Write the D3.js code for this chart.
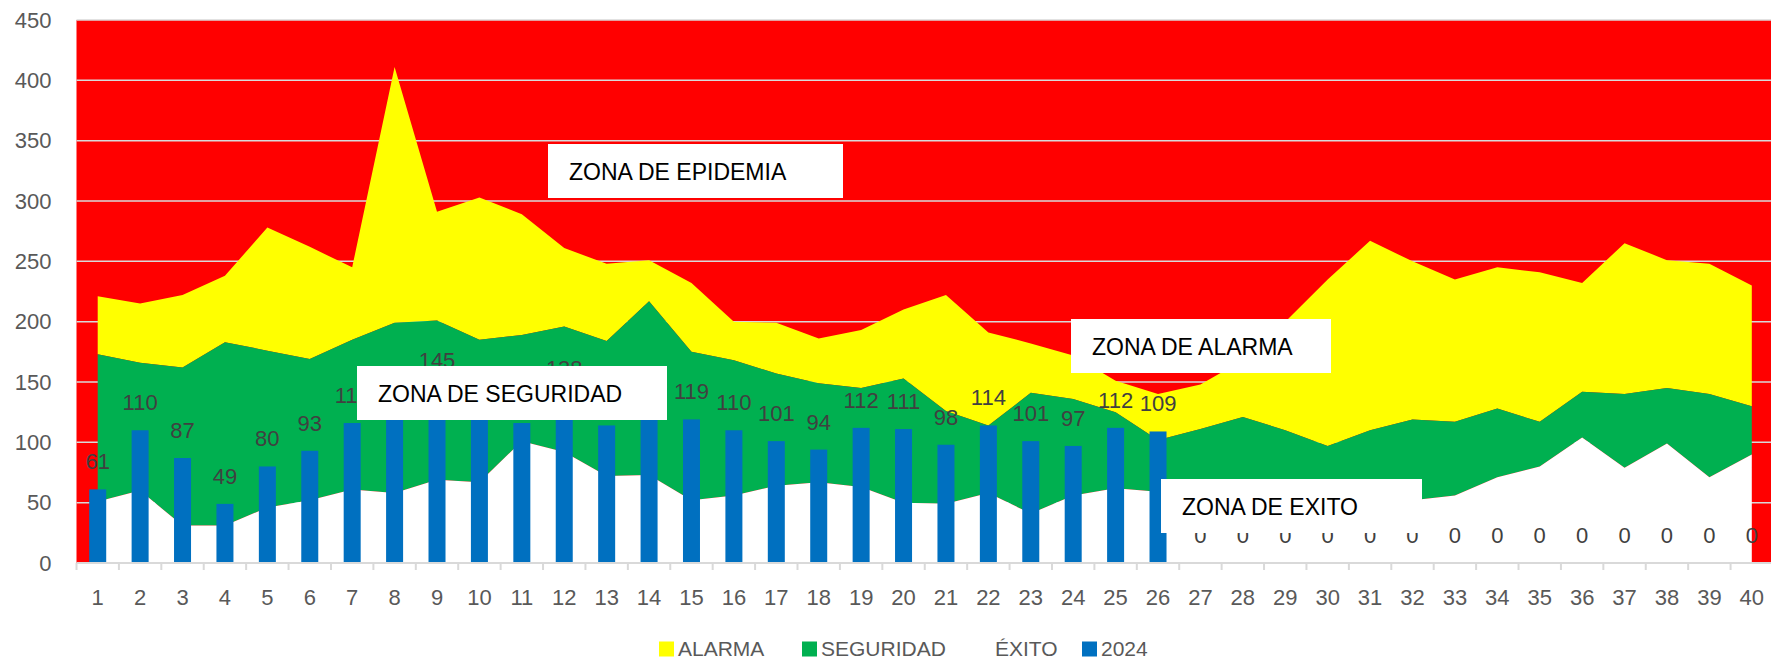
<!DOCTYPE html>
<html>
<head>
<meta charset="utf-8">
<script src="https://cdn.jsdelivr.net/npm/d3@7"></script>
<style>
  body { margin: 0; background: #fff; }
  svg { display: block; font-family: "Liberation Sans", Arial, sans-serif; }
</style>
</head>
<body>
<svg width="1771" height="663"></svg>
<script>
var weeks = [1, 2, 3, 4, 5, 6, 7, 8, 9, 10, 11, 12, 13, 14, 15, 16, 17, 18, 19, 20,
  21, 22, 23, 24, 25, 26, 27, 28, 29, 30, 31, 32, 33, 34, 35, 36, 37, 38, 39, 40]

// upper limit of each zone (cases per week)
var alarma = [221, 215, 222, 238, 278, 262, 245, 411, 291, 303, 289, 261, 248, 251, 232, 200, 199, 186, 193, 210,
  222, 191, 182, 172, 151, 140, 148, 168, 200, 235, 267, 250, 235, 245, 241, 232, 265, 251, 248, 230]
var seguridad = [173, 166, 162, 183, 176, 169, 185, 199, 201, 185, 189, 196, 184, 217, 175, 168, 157, 149, 145, 153,
  126, 114, 141, 136, 125, 102, 111, 121, 110, 97, 110, 119, 117, 128, 117, 142, 140, 145, 140, 130]
var exito = [51, 60, 31, 31, 46, 52, 61, 58, 69, 67, 101, 92, 72, 73, 52, 56, 64, 67, 63, 50,
  49, 58, 41, 56, 62, 59, 57, 54, 52, 50, 51, 52, 56, 71, 80, 104, 79, 99, 71, 90]
var casos2024 = [61, 110, 87, 49, 80, 93, 116, 128, 145, 122, 116, 138, 114, 125, 119, 110, 101, 94, 112, 111,
  98, 114, 101, 97, 112, 109, 0, 0, 0, 0, 0, 0, 0, 0, 0, 0, 0, 0, 0, 0]

var yTicks = [0, 50, 100, 150, 200, 250, 300, 350, 400, 450]
var legendNames = ['ALARMA', 'SEGURIDAD', 'ÉXITO', '2024']
var zoneNames = ['ZONA DE EPIDEMIA', 'ZONA DE SEGURIDAD', 'ZONA DE ALARMA', 'ZONA DE EXITO']

;(function (d3) {
  var svg = d3.select('svg')

  var left = 76.5
  var right = 1773
  var top = 20
  var bottom = 563

  var x = d3.scaleBand()
    .domain(weeks)
    .range([left, right])

  var y = d3.scaleLinear()
    .domain([0, 450])
    .range([bottom, top])

  var cx = function (d, i) { return x(weeks[i]) + x.bandwidth() / 2 }

  // epidemic zone = plot background
  svg.append('rect')
    .attr('x', left)
    .attr('y', top)
    .attr('width', right - left)
    .attr('height', bottom - top)
    .style('fill', '#ff0000')

  svg.selectAll('line.grid')
    .data(yTicks.filter(function (v) { return v > 0 }))
    .enter()
    .append('line')
    .attr('class', 'grid')
    .attr('x1', left)
    .attr('x2', right)
    .attr('y1', function (v) { return y(v) })
    .attr('y2', function (v) { return y(v) })
    .style('stroke', '#d9d9d9')
    .style('stroke-width', 1.5)

  // alarm, security and success channels, top to bottom
  var bands = [
    {lo: seguridad, hi: alarma, color: '#ffff00'},
    {lo: exito, hi: seguridad, color: '#00b050'},
    {lo: null, hi: exito, color: '#ffffff'}
  ]

  bands.forEach(function (b) {
    var area = d3.area()
      .x(cx)
      .y0(function (d, i) { return b.lo ? y(b.lo[i]) : y(0) })
      .y1(function (d, i) { return y(b.hi[i]) })
    svg.append('path')
      .datum(weeks)
      .attr('d', area)
      .style('fill', b.color)
  })

  var barW = 17
  svg.selectAll('rect.bar')
    .data(casos2024)
    .enter()
    .append('rect')
    .attr('class', 'bar')
    .attr('x', function (d, i) { return cx(d, i) - barW / 2 })
    .attr('y', function (d) { return y(d) })
    .attr('width', barW)
    .attr('height', function (d) { return bottom - y(d) })
    .style('fill', '#0070c0')

  svg.selectAll('text.val')
    .data(casos2024)
    .enter()
    .append('text')
    .attr('class', 'val')
    .attr('x', cx)
    .attr('y', function (d) { return y(d) - 20 })
    .attr('text-anchor', 'middle')
    .style('font-size', '22px')
    .style('fill', '#404040')
    .text(function (d) { return d })

  // x axis
  var xAxis = svg.append('g')
    .attr('transform', 'translate(0,' + bottom + ')')
    .call(d3.axisBottom(x).tickSize(0).tickPadding(26))
  xAxis.select('.domain').remove()
  xAxis.selectAll('text')
    .style('font-size', '22px')
    .style('font-family', '"Liberation Sans", Arial, sans-serif')
    .style('fill', '#595959')

  svg.append('line')
    .attr('x1', left)
    .attr('x2', right)
    .attr('y1', bottom)
    .attr('y2', bottom)
    .style('stroke', '#d9d9d9')
    .style('stroke-width', 2)

  svg.selectAll('line.xtick')
    .data(weeks)
    .enter()
    .append('line')
    .attr('class', 'xtick')
    .attr('x1', function (d) { return x(d) })
    .attr('x2', function (d) { return x(d) })
    .attr('y1', bottom)
    .attr('y2', bottom + 7)
    .style('stroke', '#d9d9d9')
    .style('stroke-width', 2)

  // y axis
  var yAxis = svg.append('g')
    .attr('transform', 'translate(' + left + ',0)')
    .call(d3.axisLeft(y).tickValues(yTicks).tickSize(0).tickPadding(25))
  yAxis.select('.domain').remove()
  yAxis.selectAll('text')
    .style('font-size', '22px')
    .style('font-family', '"Liberation Sans", Arial, sans-serif')
    .style('fill', '#595959')

  // zone text boxes
  var boxes = [
    {x: 548, y: 144, w: 295, h: 54},
    {x: 357, y: 366, w: 310, h: 54},
    {x: 1071, y: 319, w: 260, h: 54},
    {x: 1161, y: 479, w: 261, h: 54}
  ]
  boxes.forEach(function (b, i) {
    svg.append('rect')
      .attr('x', b.x)
      .attr('y', b.y)
      .attr('width', b.w)
      .attr('height', b.h)
      .style('fill', '#ffffff')
    svg.append('text')
      .attr('x', b.x + 21)
      .attr('y', b.y + b.h / 2 + 1)
      .attr('dy', '0.35em')
      .style('font-size', '23px')
      .style('fill', '#000000')
      .text(zoneNames[i])
  })

  // legend
  var legendColors = ['#ffff00', '#00b050', '#ffffff', '#0070c0']
  var legendX = [659, 802, 976, 1082]
  var ly = 649
  legendNames.forEach(function (name, i) {
    svg.append('rect')
      .attr('x', legendX[i])
      .attr('y', ly - 7.5)
      .attr('width', 15)
      .attr('height', 15)
      .style('fill', legendColors[i])
    svg.append('text')
      .attr('x', legendX[i] + 19)
      .attr('y', ly)
      .attr('dy', '0.35em')
      .style('font-size', '21px')
      .style('fill', '#595959')
      .text(name)
  })
})(window.d3)
</script>
</body>
</html>
